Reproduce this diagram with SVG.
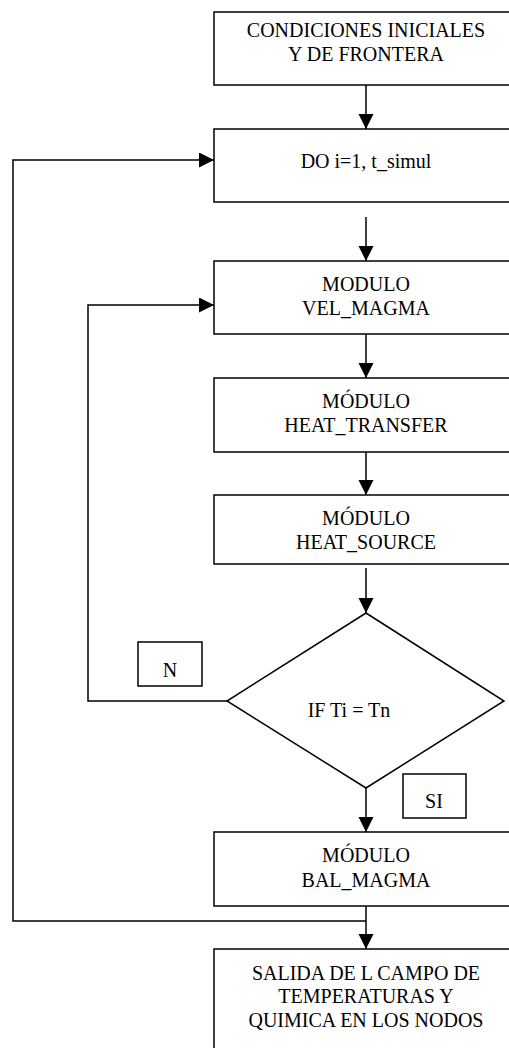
<svg xmlns="http://www.w3.org/2000/svg" width="509" height="1048" viewBox="0 0 509 1048">
<style>
.box{fill:#fff;stroke:#000;stroke-width:1.5}
.t{font-family:"Liberation Serif","Times New Roman",serif;font-size:20px;fill:#000;text-anchor:middle}
.c{fill:none;stroke:#000;stroke-width:1.5}
</style>
<defs>
<marker id="ah" markerUnits="userSpaceOnUse" markerWidth="16" markerHeight="16" refX="15" refY="7.5" orient="auto">
<path d="M0,0 L15,7.5 L0,15 Z" fill="#000"/>
</marker>
</defs>
<rect width="509" height="1048" fill="#fff"/>
<g id="connectors">
<line class="c" x1="366" y1="85" x2="366" y2="129" marker-end="url(#ah)"/>
<line class="c" x1="366" y1="217" x2="366" y2="261" marker-end="url(#ah)"/>
<line class="c" x1="366" y1="334" x2="366" y2="378" marker-end="url(#ah)"/>
<line class="c" x1="366" y1="452" x2="366" y2="495" marker-end="url(#ah)"/>
<line class="c" x1="366" y1="568" x2="366" y2="613" marker-end="url(#ah)"/>
<line class="c" x1="366" y1="788" x2="366" y2="832" marker-end="url(#ah)"/>
<line class="c" x1="366" y1="906" x2="366" y2="949" marker-end="url(#ah)"/>
<polyline class="c" points="227,701 88,701 88,305 214,305" marker-end="url(#ah)"/>
<polyline class="c" points="366,921 13,921 13,160 214,160" marker-end="url(#ah)"/>
</g>
<g id="n1"><rect class="box" x="214" y="12" width="304" height="73"/><text class="t" x="366" y="37">CONDICIONES INICIALES</text><text class="t" x="366" y="61">Y DE FRONTERA</text></g>
<g id="n2"><rect class="box" x="214" y="129" width="304" height="73"/><text class="t" x="366" y="168">DO i=1, t_simul</text></g>
<g id="n3"><rect class="box" x="214" y="261" width="304" height="73"/><text class="t" x="366" y="291">MODULO</text><text class="t" x="366" y="315">VEL_MAGMA</text></g>
<g id="n4"><rect class="box" x="214" y="378" width="304" height="74"/><text class="t" x="366" y="408">MÓDULO</text><text class="t" x="366" y="432">HEAT_TRANSFER</text></g>
<g id="n5"><rect class="box" x="214" y="495" width="304" height="69"/><text class="t" x="366" y="525">MÓDULO</text><text class="t" x="366" y="549">HEAT_SOURCE</text></g>
<g id="n6"><polygon class="box" points="366,613 504,701 366,788 227,701"/><text class="t" x="349" y="717">IF Ti = Tn</text></g>
<g id="lblN"><rect class="box" x="138" y="642" width="64" height="44"/><text class="t" x="170" y="677">N</text></g>
<g id="lblSI"><rect class="box" x="403" y="774" width="63" height="44"/><text class="t" x="434" y="808">SI</text></g>
<g id="n7"><rect class="box" x="214" y="832" width="304" height="74"/><text class="t" x="366" y="862">MÓDULO</text><text class="t" x="366" y="887">BAL_MAGMA</text></g>
<g id="n8"><rect class="box" x="214" y="949" width="304" height="110"/><text class="t" x="366" y="980">SALIDA DE L CAMPO DE</text><text class="t" x="366" y="1003">TEMPERATURAS Y</text><text class="t" x="366" y="1027">QUIMICA EN LOS NODOS</text></g>
</svg>
